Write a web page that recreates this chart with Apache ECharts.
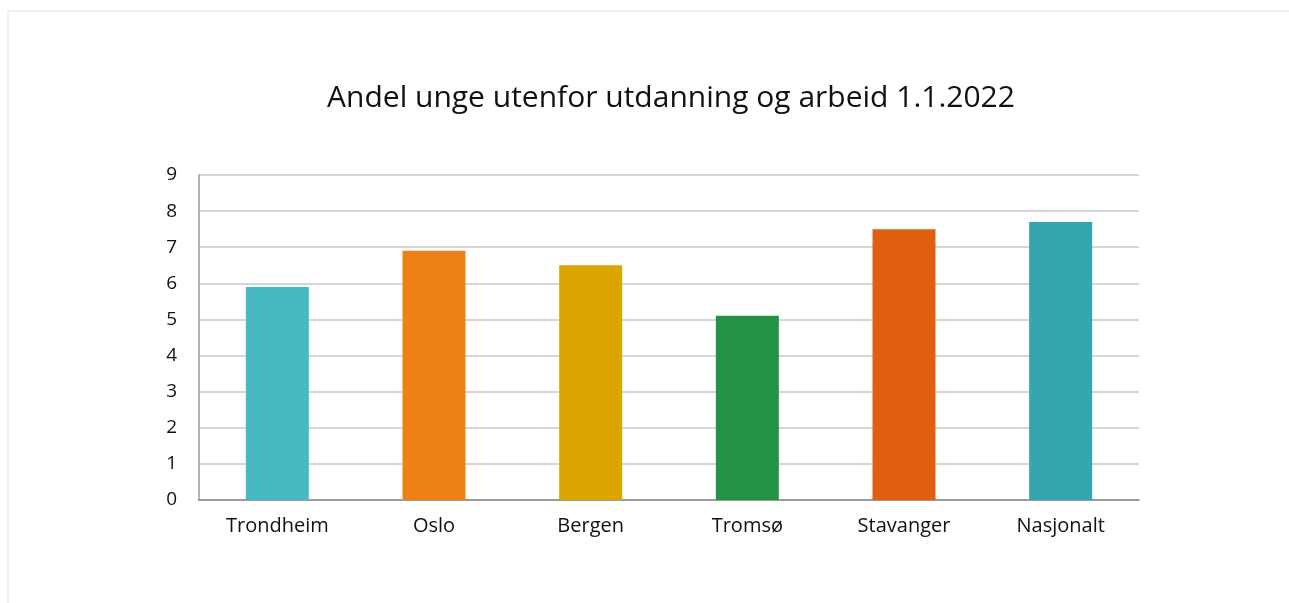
<!DOCTYPE html>
<html>
<head>
<meta charset="utf-8">
<script src="https://cdn.jsdelivr.net/npm/echarts@6/dist/echarts.min.js"></script>
<style>
  html, body { margin: 0; padding: 0; background: #fff; overflow: hidden; }
  #frame {
    position: absolute; left: 7px; top: 10px; width: 1300px; height: 620px;
    border: 2px solid #f4f0e6; box-sizing: border-box;
  }
  #chart { position: absolute; left: 0; top: 0; width: 1289px; height: 603px; }
</style>
</head>
<body>
<div id="frame"></div>
<div id="chart"></div>
<script>
const categories = ['Trondheim', 'Oslo', 'Bergen', 'Tromsø', 'Stavanger', 'Nasjonalt'];
const values = [5.9, 6.9, 6.5, 5.1, 7.5, 7.7];
const barColors = ['#47b9c0', '#ed8117', '#dca600', '#239245', '#e05e11', '#34a6ae'];

const chart = echarts.init(document.getElementById('chart'), null, { renderer: 'canvas' });

// one colour per bar
const barData = values.map((v, i) => ({
  value: v,
  itemStyle: { color: barColors[i] },
}));

const option = {
  backgroundColor: 'transparent',
  animation: false,
  title: {
    text: 'Andel unge utenfor utdanning og arbeid 1.1.2022',
    left: 666,
    textAlign: 'center',
    top: 78,
    textStyle: {
      fontFamily: 'Open Sans',
      fontSize: 30,
      fontWeight: 'normal',
      color: '#111',
    },
  },
  grid: { left: 199, right: 150, top: 175, bottom: 103, containLabel: false },
  xAxis: {
    type: 'category',
    data: categories,
    axisLine: { lineStyle: { color: '#888', width: 1.5 } },
    axisTick: { show: false },
    axisLabel: {
      fontFamily: 'Open Sans',
      fontSize: 20,
      color: '#111',
      margin: 16,
    },
  },
  yAxis: {
    type: 'value',
    min: 0,
    max: 9,
    interval: 1,
    axisLine: { show: true, lineStyle: { color: '#999', width: 1.5 } },
    axisTick: { show: false },
    splitLine: { lineStyle: { color: '#c8c8c8', width: 1.5 } },
    axisLabel: {
      fontFamily: 'Open Sans',
      fontSize: 19,
      color: '#111',
      margin: 22,
    },
  },
  series: [
    {
      type: 'bar',
      data: barData,
      barWidth: 63,
    },
  ],
};

chart.setOption(option);
</script>
</body>
</html>
